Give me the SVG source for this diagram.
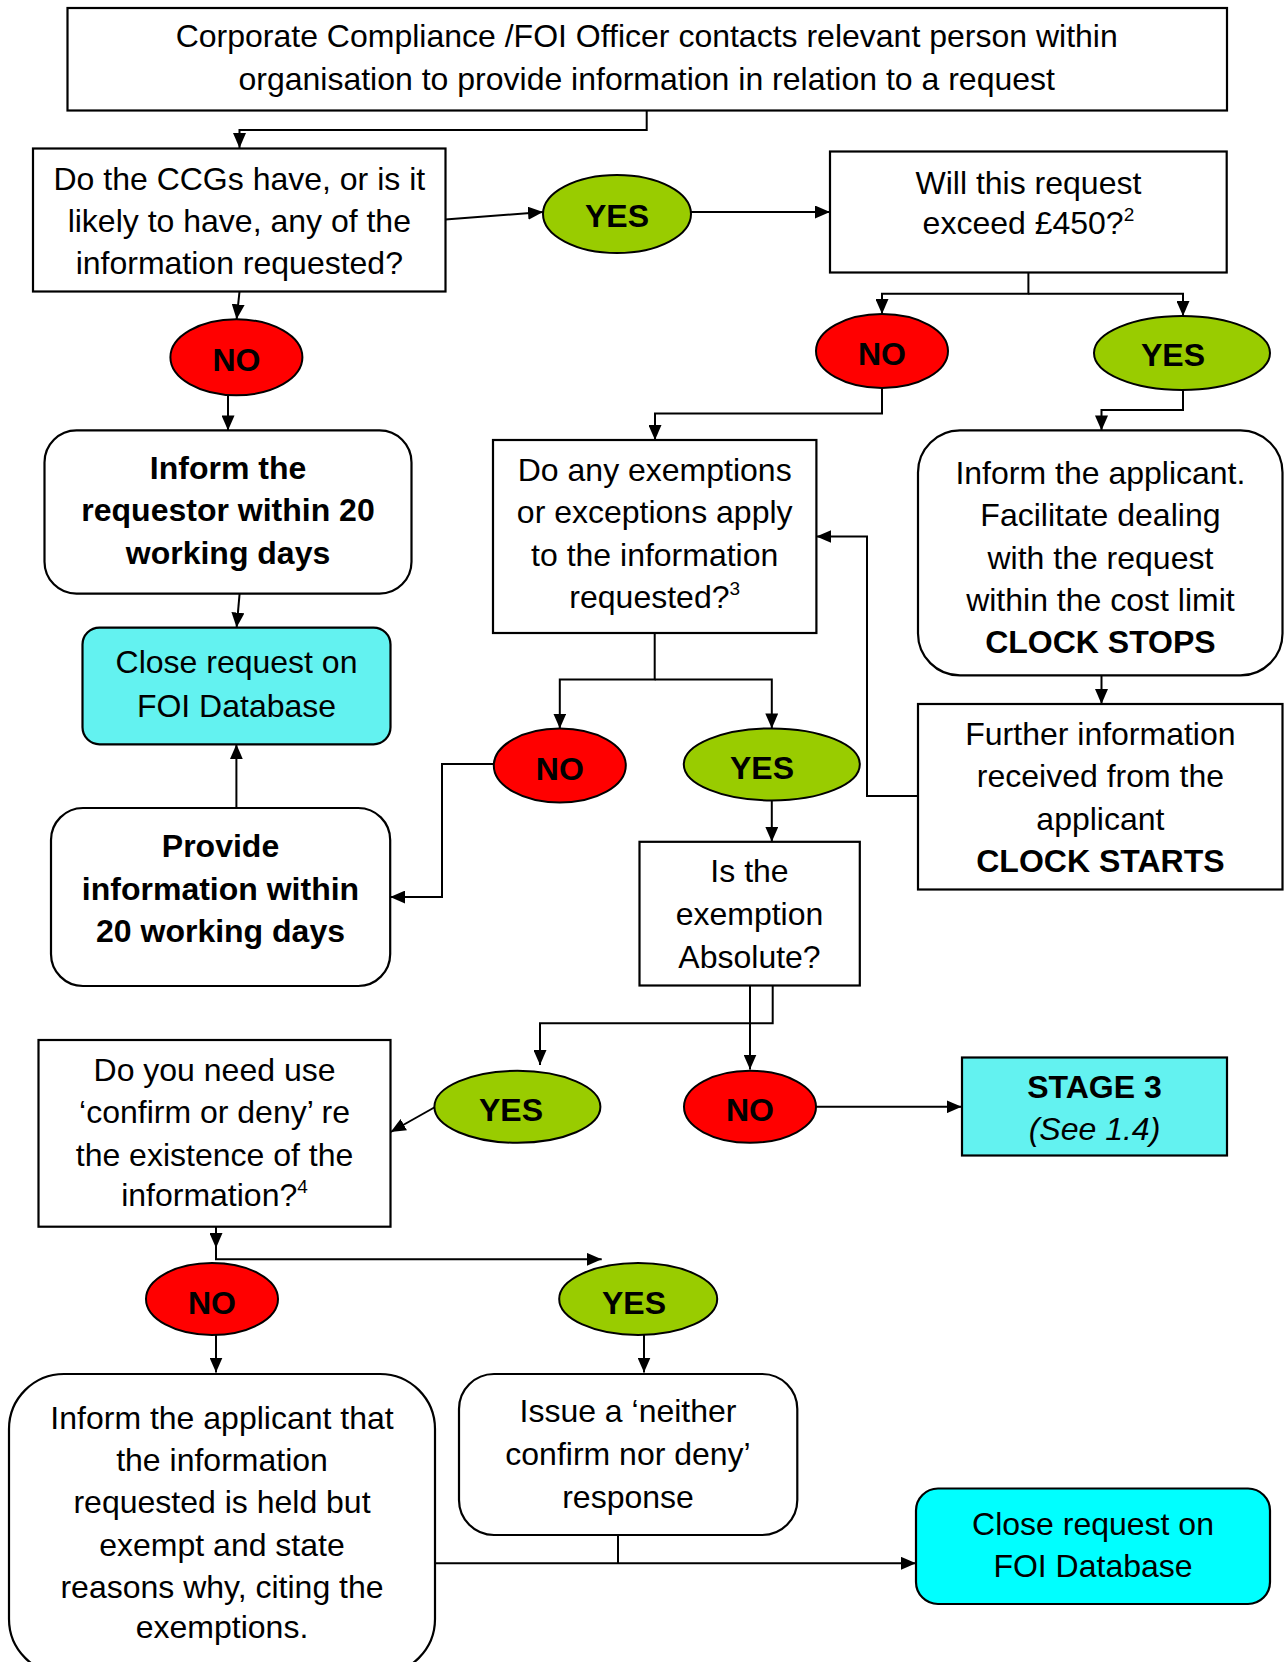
<svg xmlns="http://www.w3.org/2000/svg" width="1285" height="1662" viewBox="0 0 1285 1662">
<defs>
<marker id="arr" markerUnits="userSpaceOnUse" markerWidth="15" markerHeight="13" refX="15" refY="6.5" orient="auto">
<path d="M0,0 L15,6.5 L0,13 z" fill="#000"/>
</marker>
<style>
.box{fill:#fff;stroke:#000;stroke-width:2.2}
.cy{fill:#63f2f0;stroke:#000;stroke-width:2.2}
.cy2{fill:#00ffff;stroke:#000;stroke-width:2.2}
.red{fill:#ff0000;stroke:#000;stroke-width:2}
.grn{fill:#99cc00;stroke:#000;stroke-width:2}
.t{font-family:"Liberation Sans",Arial,sans-serif;font-size:32px;fill:#000;text-anchor:middle}
.b{font-weight:bold}
.i{font-style:italic}
.c{fill:none;stroke:#000;stroke-width:2}
.sup{font-size:19px}
</style>
</defs>
<rect width="1285" height="1662" fill="#fff"/>

<g id="connectors">
<path class="c" d="M646.7,111 V130 H239.5 V148" marker-end="url(#arr)"/>
<path class="c" d="M445.3,219.5 L543,212" marker-end="url(#arr)"/>
<path class="c" d="M691,212 H830" marker-end="url(#arr)"/>
<path class="c" d="M1028.4,272.5 V293.7 H882 V314" marker-end="url(#arr)"/>
<path class="c" d="M1028.4,293.7 H1183 V316" marker-end="url(#arr)"/>
<path class="c" d="M239.5,291.6 L236.6,319.3" marker-end="url(#arr)"/>
<path class="c" d="M228,395 V430.4" marker-end="url(#arr)"/>
<path class="c" d="M882,388 V413.5 H655 V440" marker-end="url(#arr)"/>
<path class="c" d="M1183,390 V410 H1101.5 V430.4" marker-end="url(#arr)"/>
<path class="c" d="M239.6,593.7 L236.6,627.6" marker-end="url(#arr)"/>
<path class="c" d="M236.4,808 V744.3" marker-end="url(#arr)"/>
<path class="c" d="M654.7,633 V679.6 H559.8 V728.5" marker-end="url(#arr)"/>
<path class="c" d="M654.7,679.6 H771.8 V728.4" marker-end="url(#arr)"/>
<path class="c" d="M493,764 H442 V897 H390.2" marker-end="url(#arr)"/>
<path class="c" d="M771.8,800.5 V841.8" marker-end="url(#arr)"/>
<path class="c" d="M1101.5,675.3 V704" marker-end="url(#arr)"/>
<path class="c" d="M918,796 H867 V536.5 H816.4" marker-end="url(#arr)"/>
<path class="c" d="M750,985 V1069.5" marker-end="url(#arr)"/>
<path class="c" d="M772.7,981.7 V1023.3 H540 V1065" marker-end="url(#arr)"/>
<path class="c" d="M816,1106.8 H961.6" marker-end="url(#arr)"/>
<path class="c" d="M436,1106.5 L390.7,1132" marker-end="url(#arr)"/>
<path class="c" d="M216,1206.7 V1248" marker-end="url(#arr)"/>
<path class="c" d="M216,1246 V1259.3 H601.7" marker-end="url(#arr)"/>
<path class="c" d="M216,1335 V1372.5" marker-end="url(#arr)"/>
<path class="c" d="M644,1335 V1372.5" marker-end="url(#arr)"/>
<path class="c" d="M435,1563.3 H916" marker-end="url(#arr)"/>
<path class="c" d="M618,1535 V1563.3"/>
</g>

<g id="n-start">
<rect class="box" x="67.5" y="8" width="1159.5" height="102.5"/>
<text class="t" x="646.7" y="47">Corporate Compliance /FOI Officer contacts relevant person within</text>
<text class="t" x="646.7" y="90">organisation to provide information in relation to a request</text>
</g>

<g id="n-have">
<rect class="box" x="33" y="148.5" width="412.5" height="143"/>
<text class="t" x="239.3" y="189.5">Do the CCGs have, or is it</text>
<text class="t" x="239.3" y="231.5">likely to have, any of the</text>
<text class="t" x="239.3" y="274">information requested?</text>
</g>

<g id="n-yes1">
<ellipse class="grn" cx="617" cy="214" rx="74" ry="39"/>
<text class="t b" x="617" y="227">YES</text>
</g>

<g id="n-exceed">
<rect class="box" x="830" y="151.5" width="396.7" height="121"/>
<text class="t" x="1028.4" y="193.5">Will this request</text>
<text class="t" x="1028.4" y="234">exceed £450?<tspan class="sup" dy="-13">2</tspan></text>
</g>

<g id="n-no1">
<ellipse class="red" cx="236.4" cy="357.3" rx="66" ry="38"/>
<text class="t b" x="236.4" y="371">NO</text>
</g>

<g id="n-no2">
<ellipse class="red" cx="882" cy="351" rx="66" ry="37"/>
<text class="t b" x="882" y="365">NO</text>
</g>

<g id="n-yes2">
<ellipse class="grn" cx="1182" cy="353" rx="88" ry="37"/>
<text class="t b" x="1173" y="366">YES</text>
</g>

<g id="n-inform-requestor">
<rect class="box" x="44.5" y="430.4" width="367" height="163.3" rx="32"/>
<text class="t b" x="228" y="479">Inform the</text>
<text class="t b" x="228" y="521">requestor within 20</text>
<text class="t b" x="228" y="563.5">working days</text>
</g>

<g id="n-close1">
<rect class="cy" x="82.5" y="627.6" width="308" height="116.7" rx="17"/>
<text class="t" x="236.5" y="673">Close request on</text>
<text class="t" x="236.5" y="716.7">FOI Database</text>
</g>

<g id="n-provide">
<rect class="box" x="51" y="808" width="339.2" height="178" rx="32"/>
<text class="t b" x="220.5" y="857">Provide</text>
<text class="t b" x="220.5" y="899.5">information within</text>
<text class="t b" x="220.5" y="942">20 working days</text>
</g>

<g id="n-exemptions">
<rect class="box" x="493" y="440" width="323.4" height="193"/>
<text class="t" x="654.7" y="481">Do any exemptions</text>
<text class="t" x="654.7" y="523">or exceptions apply</text>
<text class="t" x="654.7" y="565.5">to the information</text>
<text class="t" x="654.7" y="608">requested?<tspan class="sup" dy="-13">3</tspan></text>
</g>

<g id="n-no3">
<ellipse class="red" cx="559.8" cy="765.5" rx="66" ry="37"/>
<text class="t b" x="559.8" y="779.5">NO</text>
</g>

<g id="n-yes3">
<ellipse class="grn" cx="771.8" cy="764.4" rx="88" ry="36"/>
<text class="t b" x="762" y="779">YES</text>
</g>

<g id="n-inform-applicant">
<rect class="box" x="918" y="430.4" width="364.5" height="245" rx="42"/>
<text class="t" x="1100.4" y="484">Inform the applicant.</text>
<text class="t" x="1100.4" y="526">Facilitate dealing</text>
<text class="t" x="1100.4" y="569">with the request</text>
<text class="t" x="1100.4" y="611">within the cost limit</text>
<text class="t b" x="1100.4" y="653">CLOCK STOPS</text>
</g>

<g id="n-further">
<rect class="box" x="918" y="704" width="364.5" height="185.5"/>
<text class="t" x="1100.4" y="745">Further information</text>
<text class="t" x="1100.4" y="787">received from the</text>
<text class="t" x="1100.4" y="830">applicant</text>
<text class="t b" x="1100.4" y="872">CLOCK STARTS</text>
</g>

<g id="n-absolute">
<rect class="box" x="639.5" y="841.8" width="220.3" height="143.7"/>
<text class="t" x="749.5" y="881.5">Is the</text>
<text class="t" x="749.5" y="925">exemption</text>
<text class="t" x="749.5" y="967.5">Absolute?</text>
</g>

<g id="n-yes4">
<ellipse class="grn" cx="517.4" cy="1106.8" rx="83" ry="36"/>
<text class="t b" x="511" y="1121">YES</text>
</g>

<g id="n-no4">
<ellipse class="red" cx="750" cy="1106.8" rx="66" ry="36"/>
<text class="t b" x="750" y="1121">NO</text>
</g>

<g id="n-stage3">
<rect class="cy" x="962" y="1057.5" width="265" height="98"/>
<text class="t b" x="1094.5" y="1098">STAGE 3</text>
<text class="t i" x="1094.5" y="1140">(See 1.4)</text>
</g>

<g id="n-confirm">
<rect class="box" x="38.5" y="1040" width="352" height="186.7"/>
<text class="t" x="214.5" y="1081">Do you need use</text>
<text class="t" x="214.5" y="1123">‘confirm or deny’ re</text>
<text class="t" x="214.5" y="1166">the existence of the</text>
<text class="t" x="214.5" y="1206">information?<tspan class="sup" dy="-13">4</tspan></text>
</g>

<g id="n-no5">
<ellipse class="red" cx="212" cy="1299" rx="66" ry="36"/>
<text class="t b" x="212" y="1314">NO</text>
</g>

<g id="n-yes5">
<ellipse class="grn" cx="638.2" cy="1299" rx="79" ry="36"/>
<text class="t b" x="634" y="1314">YES</text>
</g>

<g id="n-held">
<rect class="box" x="9" y="1374" width="426" height="300" rx="55"/>
<text class="t" x="222" y="1428.5">Inform the applicant that</text>
<text class="t" x="222" y="1470.5">the information</text>
<text class="t" x="222" y="1512.7">requested is held but</text>
<text class="t" x="222" y="1556">exempt and state</text>
<text class="t" x="222" y="1597.7">reasons why, citing the</text>
<text class="t" x="222" y="1638">exemptions.</text>
</g>

<g id="n-ncnd">
<rect class="box" x="459" y="1374" width="338.3" height="161" rx="35"/>
<text class="t" x="628" y="1422">Issue a ‘neither</text>
<text class="t" x="628" y="1464.5">confirm nor deny’</text>
<text class="t" x="628" y="1508">response</text>
</g>

<g id="n-close2">
<rect class="cy2" x="916" y="1488.5" width="354" height="115.5" rx="22"/>
<text class="t" x="1093" y="1535">Close request on</text>
<text class="t" x="1093" y="1577">FOI Database</text>
</g>
</svg>
